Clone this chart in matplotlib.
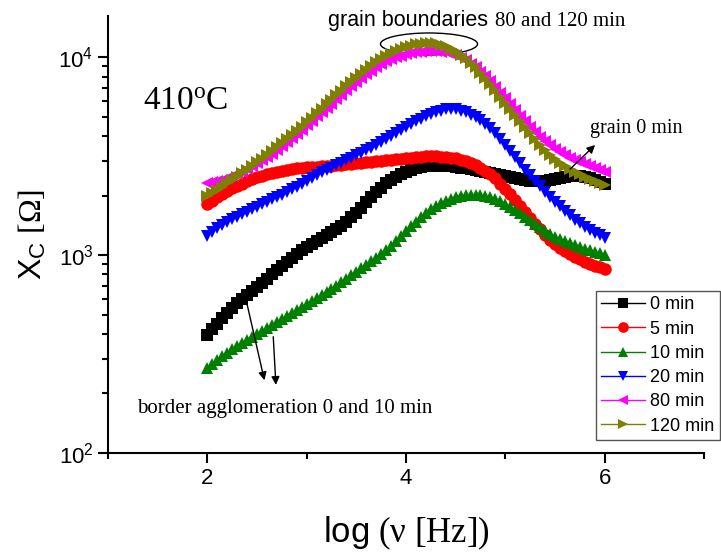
import numpy as np
import matplotlib
matplotlib.use("Agg")
import matplotlib.pyplot as plt
from matplotlib.patches import Ellipse

plt.rcParams['font.family'] = ['Liberation Sans', 'DejaVu Sans']
plt.rcParams['mathtext.fontset'] = 'custom'
plt.rcParams['mathtext.rm'] = 'Liberation Serif'
plt.rcParams['mathtext.it'] = 'Liberation Serif:italic'
plt.rcParams['mathtext.sf'] = 'Liberation Sans'

# log10 of frequency: 2.00 .. 6.00, 81 points
log_f = np.linspace(2, 6, 81)

# X_C in ohm
xc_0 = [396, 423, 450, 480, 511, 542, 574, 602, 630, 660,
        692, 725, 759, 800, 843, 883, 925, 970, 1015, 1058,
        1102, 1140, 1181, 1223, 1266, 1310, 1357, 1412, 1480, 1555,
        1640, 1740, 1850, 1965, 2080, 2200, 2310, 2400, 2480, 2560,
        2634, 2700, 2761, 2795, 2826, 2830, 2826, 2826, 2826, 2810,
        2793, 2777, 2761, 2729, 2697, 2665, 2634, 2604, 2574, 2545,
        2516, 2487, 2458, 2430, 2401, 2387, 2373, 2368, 2373, 2400,
        2429, 2457, 2485, 2505, 2516, 2505, 2485, 2445, 2401, 2347, 2292]
xc_5 = [1816, 1890, 1969, 2040, 2112, 2175, 2239, 2305, 2373, 2430,
        2485, 2530, 2574, 2604, 2634, 2665, 2697, 2729, 2761, 2777,
        2793, 2793, 2793, 2810, 2826, 2842, 2858, 2875, 2891, 2908,
        2925, 2941, 2958, 2975, 2992, 3010, 3027, 3045, 3062, 3080,
        3097, 3115, 3133, 3152, 3170, 3175, 3170, 3152, 3133, 3115,
        3097, 3045, 2992, 2925, 2858, 2765, 2667, 2560, 2455, 2305,
        2161, 2030, 1903, 1775, 1655, 1545, 1439, 1350, 1266, 1200,
        1140, 1094, 1052, 1015, 980, 952, 925, 904, 883, 868, 853]
xc_10 = [270, 283, 296, 308, 321, 335, 349, 361, 374, 387,
         400, 414, 429, 444, 460, 476, 493, 511, 529, 548,
         568, 588, 608, 630, 653, 676, 700, 729, 759, 791,
         824, 858, 894, 930, 969, 1015, 1064, 1120, 1181, 1252,
         1327, 1400, 1473, 1555, 1636, 1705, 1774, 1828, 1880, 1925,
         1969, 1995, 2018, 2025, 2018, 2008, 1995, 1960, 1923, 1870,
         1816, 1755, 1694, 1627, 1561, 1500, 1439, 1383, 1327, 1280,
         1236, 1208, 1181, 1154, 1127, 1101, 1076, 1058, 1040, 1021, 1003]
xc_20 = [1251, 1312, 1374, 1423, 1473, 1517, 1561, 1608, 1655, 1704,
         1754, 1806, 1859, 1914, 1969, 2028, 2088, 2150, 2213, 2293,
         2373, 2459, 2545, 2621, 2697, 2777, 2858, 2942, 3027, 3118,
         3210, 3306, 3402, 3504, 3606, 3735, 3865, 4005, 4145, 4295,
         4446, 4606, 4767, 4910, 5053, 5172, 5291, 5385, 5478, 5500,
         5478, 5385, 5291, 5145, 4998, 4802, 4607, 4376, 4145, 3875,
         3606, 3370, 3133, 2915, 2697, 2535, 2373, 2230, 2088, 1973,
         1859, 1766, 1674, 1590, 1507, 1448, 1390, 1343, 1297, 1260, 1222]
xc_80 = [2317, 2345, 2373, 2412, 2455, 2513, 2574, 2650, 2729, 2825,
         2925, 3028, 3133, 3265, 3402, 3565, 3733, 3915, 4102, 4320,
         4550, 4795, 5053, 5295, 5546, 5840, 6152, 6485, 6839, 7160,
         7500, 7860, 8241, 8580, 8930, 9250, 9572, 9800, 10040, 10220,
         10400, 10520, 10640, 10700, 10760, 10775, 10760, 10700, 10640, 10470,
         10280, 9990, 9683, 9310, 8930, 8480, 8054, 7560, 7080, 6640,
         6223, 5810, 5420, 5085, 4767, 4475, 4198, 3980, 3776, 3605,
         3443, 3325, 3210, 3117, 3027, 2958, 2891, 2825, 2761, 2697, 2634]
xc_120 = [1995, 2065, 2138, 2225, 2317, 2400, 2485, 2590, 2697, 2825,
          2958, 3080, 3210, 3365, 3524, 3690, 3865, 4050, 4246, 4470,
          4710, 4965, 5233, 5510, 5808, 6120, 6451, 6800, 7164, 7500,
          7855, 8235, 8630, 9040, 9464, 9810, 10160, 10460, 10760, 11010,
          11270, 11470, 11670, 11740, 11800, 11820, 11800, 11620, 11400, 11080,
          10760, 10330, 9910, 9410, 8930, 8380, 7855, 7330, 6839, 6340,
          5875, 5480, 5117, 4770, 4446, 4145, 3865, 3625, 3402, 3225,
          3062, 2940, 2826, 2730, 2634, 2560, 2485, 2430, 2373, 2320, 2265]

labels = ['0 min', '5 min', '10 min', '20 min', '80 min', '120 min']
series = [xc_0, xc_5, xc_10, xc_20, xc_80, xc_120]
colors = ['#000000', '#FF0000', '#008000', '#0000FF', '#FF00FF', '#808000']
markers = ['s', 'o', '^', 'v', '<', '>']
sizes = [8.5, 9, 9, 9, 9, 9]

fig = plt.figure(figsize=(7.21, 5.52), dpi=100)
ax = fig.add_axes([0.1498, 0.1793, 0.8266, 0.7917])

for y, lab, c, m, s in zip(series, labels, colors, markers, sizes):
    ax.plot(log_f, y, color=c, marker=m, markersize=s, linewidth=1,
            markeredgewidth=0, label=lab)

ax.set_yscale('log')
ax.set_xlim(1, 7)
ax.set_ylim(100, 16200)
ax.set_xticks([2, 4, 6])
ax.set_xticks([1, 3, 5, 7], minor=True)

for side in ['top', 'right']:
    ax.spines[side].set_visible(False)
for side in ['left', 'bottom']:
    ax.spines[side].set_linewidth(1.5)
ax.tick_params(which='major', direction='out', length=7, width=1.5, labelsize=16)
ax.tick_params(which='minor', direction='out', length=4.5, width=1.5)

ax.set_xlabel(r'$\mathsf{log}$ (ν [Hz])', family='Liberation Serif', fontsize=25)
ax.set_ylabel(r'$\mathsf{X}_\mathsf{C}$ [Ω]', family='Liberation Serif', fontsize=23)
ax.xaxis.set_label_coords(0.5, -0.142)
ax.yaxis.set_label_coords(-0.10, 0.5)

leg = ax.legend(loc='upper left', bbox_to_anchor=(596 / 721, (552 - 291) / 552),
                bbox_transform=fig.transFigure, fontsize=13, frameon=True,
                fancybox=False, edgecolor='#555555', framealpha=1,
                handlelength=2.4, handletextpad=0.3, labelspacing=0.4,
                borderpad=0.3, borderaxespad=0, markerscale=0.85)
leg.get_frame().set_linewidth(1.0)

ax.text(0.0587, 0.785, r'410$^\mathrm{o}$C', transform=ax.transAxes,
        family='Liberation Serif', fontsize=24, va='baseline')

fig.text(328 / 721, (552 - 26) / 552, 'grain boundaries',
         family='Liberation Sans', fontsize=15.5, va='baseline')
fig.text(495 / 721, (552 - 26) / 552, '80 and 120 min',
         family='Liberation Serif', fontsize=15, va='baseline')
ax.add_patch(Ellipse((0.5386, 0.936), 0.1628, 0.0503, transform=ax.transAxes,
                     fill=False, edgecolor='black', linewidth=1))

ax.text(0.809, 0.732, 'grain 0 min', transform=ax.transAxes,
        family='Liberation Serif', fontsize=14.5, va='baseline')
ax.annotate('', xy=(5.924, 3692), xytext=(5.632, 2666),
            arrowprops=dict(arrowstyle='-|>', color='black', lw=1, mutation_scale=12))

ax.text(0.0487, 0.0915, 'border agglomeration 0 and 10 min', transform=ax.transAxes,
        family='Liberation Serif', fontsize=15, va='baseline')
ax.annotate('', xy=(2.581, 226), xytext=(2.390, 595),
            arrowprops=dict(arrowstyle='-|>', color='black', lw=1, mutation_scale=12))
ax.annotate('', xy=(2.692, 214), xytext=(2.662, 400),
            arrowprops=dict(arrowstyle='-|>', color='black', lw=1, mutation_scale=12))

fig.savefig('out.png', dpi=100)
